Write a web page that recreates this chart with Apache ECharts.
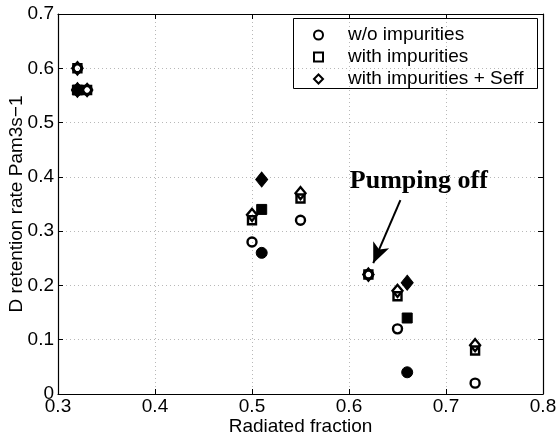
<!DOCTYPE html>
<html>
<head>
<meta charset="utf-8">
<script src="https://cdn.jsdelivr.net/npm/echarts@6/dist/echarts.min.js"></script>
<style>html,body{margin:0;padding:0;background:#fff;}#c{width:557px;height:439px;}</style>
</head>
<body>
<div id="c"></div>
<script>
// Data
const xTicks = [0.3, 0.4, 0.5, 0.6, 0.7, 0.8];
const yTicks = [0, 0.1, 0.2, 0.3, 0.4, 0.5, 0.6, 0.7];
const openCircle  = [[0.32,0.60],[0.33,0.56],[0.50,0.28],[0.55,0.32],[0.62,0.22],[0.65,0.12],[0.73,0.02]];
const openSquare  = [[0.32,0.60],[0.33,0.56],[0.50,0.32],[0.55,0.36],[0.62,0.22],[0.65,0.18],[0.73,0.08]];
const openDiamond = [[0.32,0.60],[0.33,0.56],[0.50,0.33],[0.55,0.37],[0.62,0.22],[0.65,0.19],[0.73,0.09]];
const fillCircle  = [[0.32,0.56],[0.51,0.26],[0.66,0.04]];
const fillSquare  = [[0.32,0.56],[0.51,0.34],[0.66,0.14]];
const fillDiamond = [[0.32,0.56],[0.51,0.395],[0.66,0.205]];
const arrowFrom = [0.653, 0.357];
const arrowTo = [0.625, 0.241];
const noteText = 'Pumping off';
const notePos = [0.672, 0.392];
const legendNames = ['w/o impurities', 'with impurities', 'with impurities + Seff'];

const font = '"Liberation Sans", Arial, Helvetica, sans-serif';
const fs = 19;
const chart = echarts.init(document.getElementById('c'));

function openSeries(name, data, symbol, size) {
  return {
    name: name, type: 'scatter', data: data, symbol: symbol, symbolSize: size,
    xAxisIndex: 0, yAxisIndex: 0,
    itemStyle: { color: 'rgba(255,255,255,0)', borderColor: '#000', borderWidth: 2.4, opacity: 1 },
    emphasis: { disabled: true }, z: 3
  };
}
function fillSeries(data, symbol, size) {
  return {
    type: 'scatter', data: data, symbol: symbol, symbolSize: size,
    xAxisIndex: 0, yAxisIndex: 0,
    itemStyle: { color: '#000', borderColor: '#000', borderWidth: 1, opacity: 1 },
    emphasis: { disabled: true }, z: 3
  };
}

const gridLine = { show: true, lineStyle: { color: '#b8b8b8', type: [1, 3], width: 1 } };
const axisLine = { show: true, onZero: false, lineStyle: { color: '#000', width: 1.2 } };
const tick = { show: true, inside: true, length: 5, lineStyle: { color: '#000', width: 1 } };

chart.setOption({
  animation: false,
  backgroundColor: '#fff',
  grid: { left: 58, right: 14, top: 14, bottom: 45, containLabel: false, outerBoundsMode: 'none' },
  xAxis: [{
    type: 'value', min: 0.3, max: 0.8, interval: 0.1,
    name: 'Radiated fraction', nameLocation: 'middle', nameGap: 23, nameMoveOverlap: false,
    nameTextStyle: { fontFamily: font, fontSize: fs, color: '#000' },
    axisLine: axisLine, axisTick: tick, splitLine: gridLine,
    axisLabel: { fontFamily: font, fontSize: fs, color: '#000', margin: 3, hideOverlap: false,
      formatter: v => { const t = xTicks.find(a => Math.abs(a - v) < 1e-9); return t === undefined ? '' : String(t); } }
  }, {
    type: 'value', position: 'top', min: 0.3, max: 0.8, interval: 0.1,
    axisLine: axisLine, axisTick: tick, splitLine: { show: false }, axisLabel: { show: false }
  }],
  yAxis: [{
    type: 'value', min: 0, max: 0.7, interval: 0.1,
    name: 'D retention rate Pam3s\u22121', nameLocation: 'middle', nameGap: 32, nameMoveOverlap: false,
    nameTextStyle: { fontFamily: font, fontSize: fs, color: '#000' },
    axisLine: axisLine, axisTick: tick, splitLine: gridLine,
    axisLabel: { fontFamily: font, fontSize: fs, color: '#000', margin: 4, hideOverlap: false,
      formatter: v => { const t = yTicks.find(a => Math.abs(a - v) < 1e-9); return t === undefined ? '' : String(t); } }
  }, {
    type: 'value', position: 'right', min: 0, max: 0.7, interval: 0.1,
    axisLine: axisLine, axisTick: tick, splitLine: { show: false }, axisLabel: { show: false }
  }],
  legend: {
    data: legendNames, orient: 'vertical', left: 313, top: 24, padding: 0,
    itemWidth: 9, itemHeight: 9, itemGap: 0,
    textStyle: { fontFamily: font, fontSize: fs, lineHeight: 22, color: '#000', padding: [0, 0, 0, 20] },
    selectedMode: false
  },
  series: [
    openSeries(legendNames[0], openCircle, 'circle', 9),
    openSeries(legendNames[1], openSquare, 'rect', 8),
    openSeries(legendNames[2], openDiamond, 'diamond', [10, 12]),
    fillSeries(fillCircle, 'circle', 11),
    fillSeries(fillSquare, 'rect', 10),
    fillSeries(fillDiamond, 'diamond', [12, 15]),
    {
      type: 'line', data: [], xAxisIndex: 0, yAxisIndex: 0,
      markLine: {
        silent: true, animation: false,
        symbol: ['none', 'arrow'], symbolSize: [13, 20],
        lineStyle: { color: '#000', width: 2, type: 'solid', opacity: 1 },
        label: { show: false },
        data: [[{ coord: arrowFrom }, { coord: arrowTo }]]
      },
      markPoint: {
        silent: true, symbol: 'circle', symbolSize: 1,
        itemStyle: { color: 'rgba(0,0,0,0)' },
        label: { show: true, position: 'inside', formatter: noteText,
          fontFamily: '"Liberation Serif", "Times New Roman", serif', fontWeight: 'bold', fontSize: 26, color: '#000' },
        data: [{ coord: notePos }]
      }
    }
  ],
  graphic: [{
    type: 'rect', shape: { x: 293.5, y: 18.5, width: 244, height: 70 },
    style: { fill: 'none', stroke: '#000', lineWidth: 1 }, z: 10, silent: true
  }]
});
</script>
</body>
</html>
